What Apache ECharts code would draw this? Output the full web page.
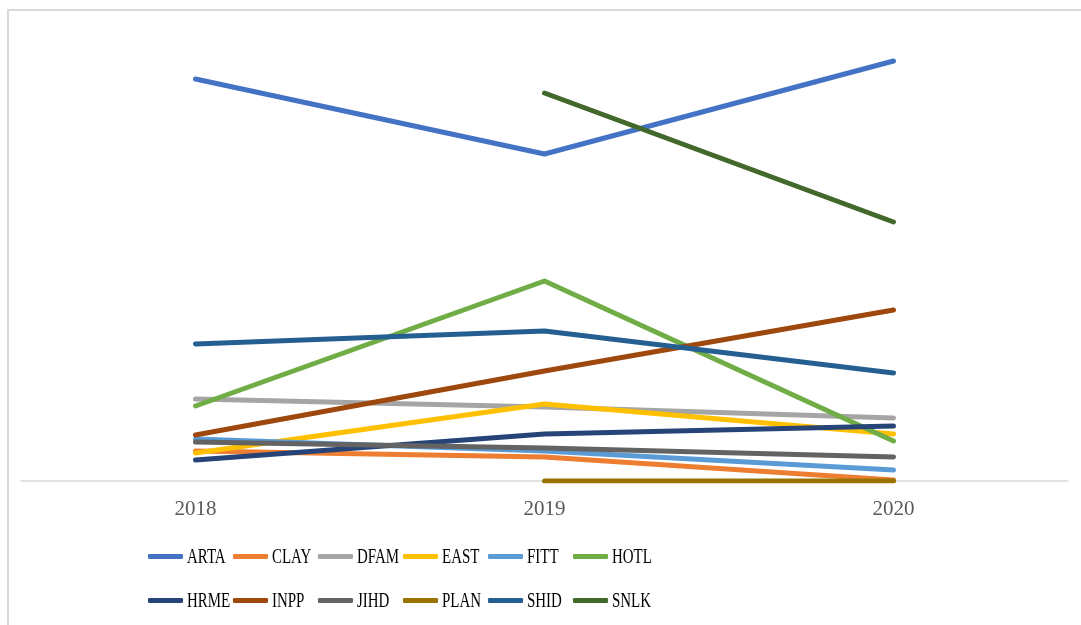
<!DOCTYPE html>
<html>
<head>
<meta charset="utf-8">
<script src="https://cdn.jsdelivr.net/npm/echarts@6/dist/echarts.min.js"></script>
<style>
  html, body { margin: 0; padding: 0; background: #fff; }
  #chart { width: 1081px; height: 625px; }
</style>
</head>
<body>
<div id="chart"></div>
<script>
// categories on the x axis
var years = ['2018', '2019', '2020'];

// series values (no y scale shown in the source, relative units)
var arta = [402, 327, 420];
var clay = [30, 24, 1];
var dfam = [82, 74, 63];
var east = [28, 77, 47];
var fitt = [42, 30, 11];
var hotl = [75, 200, 40];
var hrme = [21, 47, 55];
var inpp = [46, 110, 171];
var jihd = [39, 33, 24];
var plan = [null, 0, 0];
var shid = [137, 150, 108];
var snlk = [null, 388, 259];

var names = ['ARTA', 'CLAY', 'DFAM', 'EAST', 'FITT', 'HOTL', 'HRME', 'INPP', 'JIHD', 'PLAN', 'SHID', 'SNLK'];
var values = [arta, clay, dfam, east, fitt, hotl, hrme, inpp, jihd, plan, shid, snlk];
var colors = ['#4472C4', '#ED7D31', '#A5A5A5', '#FFC000', '#5B9BD5', '#70AD47',
              '#264478', '#9E480E', '#636363', '#997300', '#255E91', '#43682B'];

var series = names.map(function (n, i) {
    return {
        name: n,
        type: 'line',
        data: values[i],
        showSymbol: false,
        symbol: 'none',
        connectNulls: false,
        lineStyle: { width: 5, color: colors[i], cap: 'round', join: 'round' },
        itemStyle: { color: colors[i] },
        emphasis: { disabled: true }
    };
});

// legend swatches come from the legend, labels are drawn condensed like the source
function legendRow(list, top) {
    return {
        data: list,
        top: top,
        left: 148,
        padding: 0,
        orient: 'horizontal',
        icon: 'roundRect',
        itemWidth: 35,
        itemHeight: 5,
        itemGap: 50,
        selectedMode: false,
        formatter: function () { return ''; },
        textStyle: { fontSize: 1 }
    };
}

var labels = names.map(function (n, i) {
    return {
        type: 'text',
        x: 187 + 85 * (i % 6),
        y: i < 6 ? 557 : 601,
        scaleX: 0.68,
        silent: true,
        style: {
            text: n,
            font: '22px "Liberation Serif"',
            fill: '#000',
            verticalAlign: 'middle'
        }
    };
});

var chart = echarts.init(document.getElementById('chart'));
chart.setOption({
    animation: false,
    backgroundColor: '#fff',
    color: colors,
    graphic: [{
        type: 'rect',
        shape: { x: 8, y: 10, width: 1200, height: 800 },
        style: { fill: 'none', stroke: '#D9D9D9', lineWidth: 2 },
        silent: true
    }].concat(labels),
    grid: { left: 21, right: 13, top: 21, bottom: 144 },
    xAxis: {
        type: 'category',
        data: years,
        boundaryGap: true,
        axisLine: { lineStyle: { color: '#D9D9D9', width: 1.5 } },
        axisTick: { show: false },
        axisLabel: {
            margin: 18,
            fontFamily: 'Liberation Serif',
            fontSize: 21,
            color: '#595959'
        }
    },
    yAxis: {
        type: 'value',
        min: 0,
        max: 460,
        show: false,
        splitLine: { show: false }
    },
    legend: [
        legendRow(names.slice(0, 6), 554),
        legendRow(names.slice(6), 598)
    ],
    series: series
});
</script>
</body>
</html>
